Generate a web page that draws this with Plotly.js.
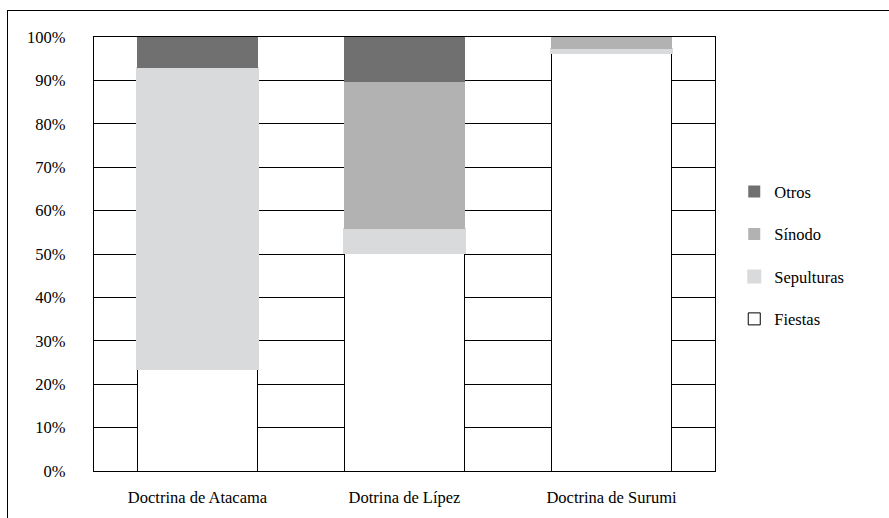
<!DOCTYPE html>
<html><head><meta charset="utf-8">
<script src="https://cdn.plot.ly/plotly-3.0.1.min.js"></script>
<style>
html,body{margin:0;padding:0;background:#fff;}
#wrap{position:relative;width:889px;height:518px;}
#chart{width:889px;height:518px;}
#frame{position:absolute;left:7px;top:10px;right:0;bottom:0;border-top:1px solid #000;border-left:1px solid #000;pointer-events:none;}
</style></head>
<body><div id="wrap"><div id="chart"></div><div id="frame"></div></div>
<script>
const categories = ["Doctrina de Atacama", "Dotrina de Lípez", "Doctrina de Surumi"];
const fiestas    = [23.5, 50.2, 96.3];
const sepulturas = [69.3, 5.5, 1.0];
const sinodo     = [null, 33.9, 2.7];
const otros      = [7.2, 10.4, null];
const yTicks     = [0,10,20,30,40,50,60,70,80,90,100];
const yTickText  = yTicks.map(v => v + "%");

const fontFam = "'Liberation Serif', 'DejaVu Serif', serif";
function mk(name, vals, color, lineColor, lineW, grp, rank){
  return {type:"bar", name:name, x:categories, y:vals, width:0.58,
    legendgroup:grp, legendrank:rank,
    marker:{color:color, line:{color:lineColor, width:lineW}},
    hoverinfo:"skip"};
}
const data = [
  mk("Fiestas", fiestas, "#ffffff", "#000000", 1, "a", 4),
  mk("Sepulturas", sepulturas, "#d9dadc", "#d9dadc", 2, "b", 3),
  mk("Sínodo", sinodo, "#b2b2b2", "#b2b2b2", 0, "c", 2),
  mk("Otros", otros, "#707070", "#707070", 0, "d", 1)
];
const layout = {
  width:889, height:518,
  margin:{l:94, r:174, t:37, b:47},
  paper_bgcolor:"#fff", plot_bgcolor:"#fff",
  barmode:"stack",
  font:{family:fontFam, size:16.5, color:"#000"},
  xaxis:{showline:true, mirror:true, linecolor:"#000", linewidth:1.3,
    showgrid:false, ticks:"", ticklabelstandoff:11, fixedrange:true},
  yaxis:{range:[0,100], tickvals:yTicks, ticktext:yTickText,
    showline:true, mirror:true, linecolor:"#000", linewidth:1.3,
    showgrid:true, gridcolor:"#000", gridwidth:1, zeroline:false,
    ticks:"", ticklabelstandoff:24, fixedrange:true},
  legend:{x:1.031, xanchor:"left", y:0.497, yanchor:"middle",
    traceorder:"grouped", tracegroupgap:18, itemwidth:30,
    font:{family:fontFam, size:16.5, color:"#000"}, bgcolor:"rgba(0,0,0,0)"},
  showlegend:true
};
Plotly.newPlot("chart", data, layout, {displayModeBar:false, staticPlot:true});
</script></body></html>
